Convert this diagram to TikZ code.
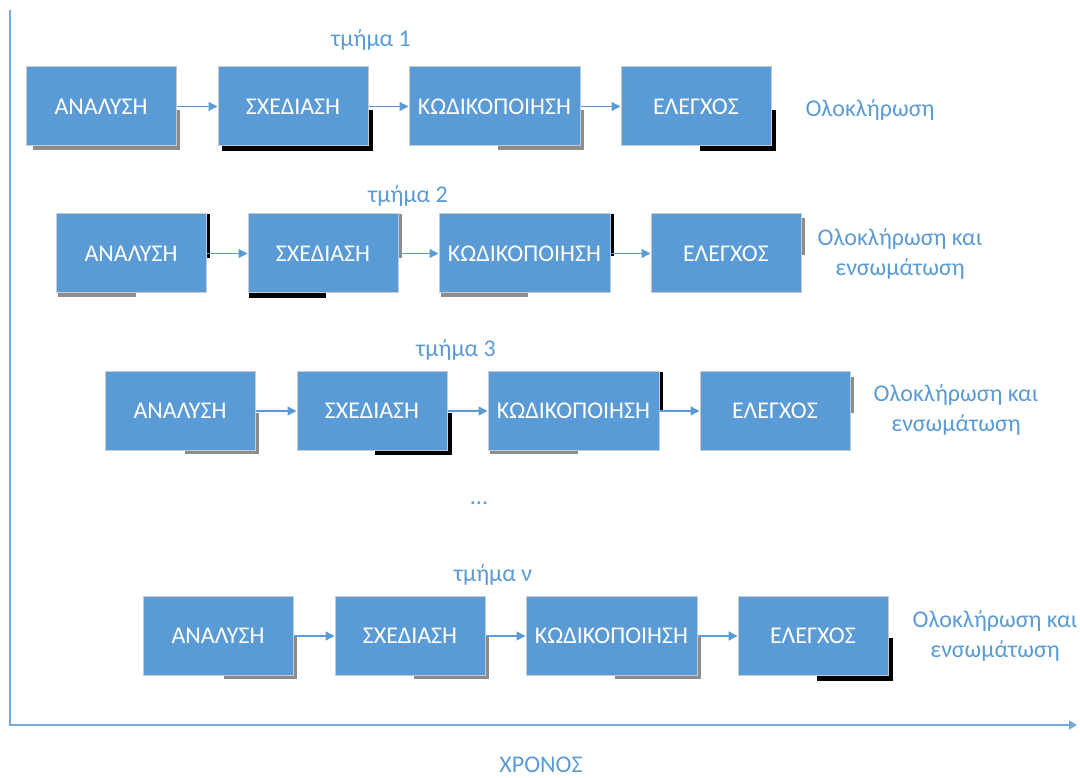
\documentclass[tikz,border=0pt]{standalone}
\usepackage{fontspec}
\setmainfont{Carlito}
\usetikzlibrary{arrows.meta}
\definecolor{boxblue}{HTML}{5B9BD5}
\definecolor{boxedge}{HTML}{C3CAD2}
\definecolor{shadegrey}{HTML}{8C8C8C}

% one row of the four development stages, shifted right by #2, centred at height #3
\newcommand\stagerow[3]{%
  \node[widebox]  (#1a) at (101+#2, #3)   {ΑΝΑΛΥΣΗ};
  \node[widebox]  (#1s) at (293+#2, #3)   {ΣΧΕΔΙΑΣΗ};
  \node[widerbox] (#1k) at (494.5+#2, #3) {ΚΩΔΙΚΟΠΟΙΗΣΗ};
  \node[widebox]  (#1e) at (696+#2, #3)   {ΕΛΕΓΧΟΣ};
  \draw[flow] (#1a) -- (#1s);
  \draw[flow] (#1s) -- (#1k);
  \draw[flow] (#1k) -- (#1e);
}
% a strip of drop shadow
\newcommand\shadowbar[5]{\fill[#1] (#2,#3) rectangle (#4,#5);}

\begin{document}
\begin{tikzpicture}[x=1pt,y=-1pt,
  stagebox/.style={draw=boxedge, line width=1pt, fill=boxblue, text=white,
    minimum height=79pt, inner sep=0pt, font=\fontsize{24}{29}\selectfont},
  widebox/.style={stagebox, minimum width=150pt},
  widerbox/.style={stagebox, minimum width=171pt},
  flow/.style={draw=boxblue, line width=1.3pt, -{Triangle[length=9pt,width=9pt]}},
  caption/.style={text=boxblue, font=\fontsize{24}{30}\selectfont, align=center, inner sep=0pt},
  axis/.style={draw=boxblue!85, line width=1.4pt, -{Triangle[length=8pt,width=9pt]}},
]
\useasboundingbox (0,0) rectangle (1080,778);

% time axes
\coordinate (ytop) at (10,10);
\coordinate (xend) at (1077,725);
\draw[axis] (ytop) |- (xend);
\node[caption] (time) at (541,765) {ΧΡΟΝΟΣ};

% drop shadows, row 1
\shadowbar{shadegrey}{176}{110}{180}{150}
\shadowbar{shadegrey}{33}{146}{180}{150}
\shadowbar{black}{368}{110}{373}{151}
\shadowbar{black}{222}{146}{373}{151}
\shadowbar{shadegrey}{580}{110}{584}{150}
\shadowbar{shadegrey}{498}{146}{584}{150}
\shadowbar{black}{771}{110}{776}{151}
\shadowbar{black}{700}{146}{776}{151}
% row 2
\shadowbar{black}{206}{214}{210}{258}
\shadowbar{shadegrey}{58}{293}{136}{297}
\shadowbar{shadegrey}{398}{214}{402}{258}
\shadowbar{black}{249}{293}{326}{298}
\shadowbar{black}{610}{214}{614}{256}
\shadowbar{shadegrey}{441}{293}{528}{297}
\shadowbar{shadegrey}{801}{218}{805}{255}
% row 3
\shadowbar{shadegrey}{255}{413}{259}{454}
\shadowbar{shadegrey}{185}{450}{259}{454}
\shadowbar{black}{447}{413}{452}{455}
\shadowbar{black}{375}{450}{452}{455}
\shadowbar{black}{659}{372}{663}{412}
\shadowbar{shadegrey}{490}{450}{578}{454}
\shadowbar{shadegrey}{850}{377}{854}{413}
% row 4
\shadowbar{shadegrey}{293}{636}{297}{679}
\shadowbar{shadegrey}{224}{675}{297}{679}
\shadowbar{shadegrey}{485}{636}{489}{679}
\shadowbar{shadegrey}{414}{675}{489}{679}
\shadowbar{shadegrey}{697}{636}{701}{679}
\shadowbar{shadegrey}{615}{675}{701}{679}
\shadowbar{black}{888}{638}{893}{681}
\shadowbar{black}{817}{675}{893}{681}

% stage rows
\stagerow{one}{0}{106.5}
\stagerow{two}{30}{253.5}
\stagerow{three}{79}{411}
\stagerow{four}{117}{636}

% section titles
\node[caption] (t1) at (371,40)  {τμήμα 1};
\node[caption] (t2) at (408,196) {τμήμα 2};
\node[caption] (t3) at (456,350) {τμήμα 3};
\node[caption] (dots) at (479,503) {...};
\node[caption] (t4) at (493,575) {τμήμα ν};

% outcomes
\node[caption] (o1) at (870,110) {Ολοκλήρωση};
\node[caption] (o2) at (900,254) {Ολοκλήρωση και\\ενσωμάτωση};
\node[caption] (o3) at (956,410) {Ολοκλήρωση και\\ενσωμάτωση};
\node[caption] (o4) at (995,636) {Ολοκλήρωση και\\ενσωμάτωση};
\end{tikzpicture}
\end{document}
